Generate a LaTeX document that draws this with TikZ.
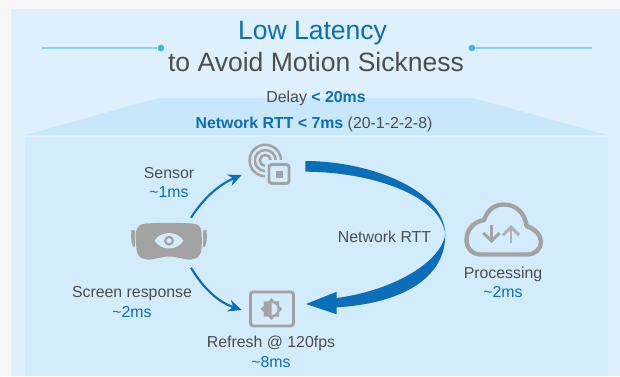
\documentclass[tikz,border=0pt]{standalone}
\usepackage{fontspec}
\setmainfont{Liberation Sans}
\usetikzlibrary{arrows.meta}
\definecolor{pagebg}{HTML}{F8F7F7}
\definecolor{panel}{HTML}{DDF0FB}
\definecolor{trap}{HTML}{C8E7FA}
\definecolor{inner}{HTML}{D3ECFB}
\definecolor{blue}{HTML}{0A6EB8}
\definecolor{txt}{HTML}{4D4D4D}
\definecolor{icon}{HTML}{A3A3A3}
\definecolor{rule}{HTML}{84D4EA}
\definecolor{dotc}{HTML}{3FBADC}
\tikzset{
  x=0.75pt,y=-0.75pt,
  lab/.style={font=\fontsize{11.9}{14}\selectfont,text=txt,inner sep=0pt,anchor=base},
  val/.style={font=\fontsize{11.9}{14}\selectfont,text=blue,inner sep=0pt,anchor=base},
  ttl/.style={font=\fontsize{19.9}{24}\selectfont,inner sep=0pt,anchor=base},
  flow/.style={draw=blue,line width=1.6pt,-{Stealth[length=10pt,width=9pt]}},
  ruleline/.style={draw=rule,line width=1.3pt},
  ruledot/.style={circle,fill=dotc,inner sep=0pt,minimum size=5pt},
  iconline/.style={draw=icon,line width=1.9pt},
}
\begin{document}
\begin{tikzpicture}
\useasboundingbox (0,0) rectangle (620,376);
\fill[pagebg] (0,0) rectangle (620,376);
\fill[panel] (11,9) rectangle (620,376);
\fill[trap] (26,135) -- (158,98) -- (473,98) -- (607,135) -- cycle;
\fill[inner] (25,137) rectangle (608,376);
% title
\node[ttl,text=blue] (t1) at (312.5,39) {Low Latency};
\node[ttl,text=txt] (t2) at (316,71) {to Avoid Motion Sickness};
\node[ruledot] (dl) at (161,48) {};
\node[ruledot] (dr) at (472,48) {};
\coordinate (ll) at (42,48);
\coordinate (lr) at (592,48);
\draw[ruleline] (ll) -- (dl);
\draw[ruleline] (dr) -- (lr);
\node[lab,text=txt] (delay) at (316,102.7) {Delay \textcolor{blue}{\textbf{< 20ms}}};
\node[lab] (rtt) at (314,128) {\textcolor{blue}{\textbf{Network RTT < 7ms}} (20-1-2-2-8)};
% big arrow
\fill[blue] (305.3,161) .. controls (370,161) and (445,190) .. (445.3,235)
  .. controls (440,262) and (395,290) .. (336.7,298)
  -- (336.7,291.7) -- (306,304) -- (336.7,314.3) -- (336.7,307.3)
  .. controls (395,304) and (445,282) .. (445.3,235)
  .. controls (442,195) and (370,171.7) .. (305.3,171.7) -- cycle;
% sensor icon
\coordinate (sc) at (265.3,160.5);
\draw[iconline] (sc) circle (15.7);
\draw[iconline] (sc) circle (10.5);
\draw[iconline] (sc) circle (5.5);
\fill[inner,rounded corners=3pt] (265,160) rectangle (294,188);
\draw[icon,line width=2.2pt,rounded corners=2pt] (269,164.5) rectangle (289,183.5);
\fill[icon] (275.5,170.5) rectangle (283,178);
\node[inner sep=0pt,minimum width=42pt,minimum height=42pt] (sensor) at (268,164) {};
% hmd
\node[inner sep=0pt,minimum width=58pt,minimum height=28pt] (hmd) at (169,241) {};
\fill[icon] (136,232) .. controls (137,226) and (140,224) .. (146,223.5)
  .. controls (160,222.5) and (178,222.5) .. (192,223.5)
  .. controls (198,224) and (201,226) .. (201.5,232)
  .. controls (202,240) and (202,247) .. (201,252)
  .. controls (200,256) and (197,259) .. (191,259.5)
  .. controls (183,260) and (178,256.5) .. (169,256.5)
  .. controls (160,256.5) and (155,260) .. (147,259.5)
  .. controls (141,259) and (138,256) .. (137,252)
  .. controls (136,247) and (135.5,240) .. (136,232) -- cycle;
\fill[icon,rounded corners=1pt] (131.5,231) -- (135,229.5) -- (135,247.5) -- (133,247) .. controls (131,241) and (131,236) .. (131.5,231) -- cycle;
\fill[icon,rounded corners=1pt] (206.5,231) -- (203,229.5) -- (203,247.5) -- (205,247) .. controls (207,241) and (207,236) .. (206.5,231) -- cycle;
\fill[inner] (154.5,240.7) .. controls (161,230.5) and (177,230.5) .. (183.5,240.7)
  .. controls (177,251) and (161,251) .. (154.5,240.7) -- cycle;
\draw[icon,line width=1.6pt] (169,240.7) circle (3.8);
% refresh icon
\draw[icon,line width=2.2pt,rounded corners=2pt] (250.5,292) rectangle (293.5,326);
\node[inner sep=0pt,minimum width=33pt,minimum height=27pt] (refresh) at (272,309) {};
\begin{scope}[shift={(271.5,309)}]
  \fill[icon] (0,0) circle (8.2);
  \foreach \a in {0,45,...,315} {
    \fill[icon] (\a:11) -- (\a+24:8) -- (\a-24:8) -- cycle;
  }
  \fill[inner] (0,-6) arc[start angle=-90,end angle=90,radius=6] -- cycle;
\end{scope}
% cloud icon
\node[inner sep=0pt,minimum width=58pt,minimum height=40pt] (cloud) at (503,230) {};
\draw[icon,line width=3.3pt,line join=round] (481,254.5)
  .. controls (472,254.5) and (466.5,248) .. (466.5,240)
  .. controls (466.5,230) and (473,222) .. (484,220)
  .. controls (488,209) and (495,204.5) .. (504,204.5)
  .. controls (516,204.5) and (525,213) .. (526.5,226)
  .. controls (535,229) and (541,235) .. (541,242)
  .. controls (541,249) and (535,254.5) .. (527,254.5) -- cycle;
\draw[icon,line width=2.2pt,-{Straight Barb[length=6pt,width=12pt]}] (491.5,225) -- (491.5,243);
\draw[icon!80!inner,line width=2.2pt,-{Straight Barb[length=6pt,width=12pt]}] (511,243) -- (511,225);
% small arrows
\coordinate (a1) at (191,217.7);
\coordinate (a2) at (241.7,175);
\coordinate (b1) at (191,267.7);
\coordinate (b2) at (241.7,310);
\draw[flow] (a1) .. controls (203,199) and (218,185) .. (a2);
\draw[flow] (b1) .. controls (203,288) and (218,302) .. (b2);
% labels
\node[lab] (s1) at (169,178.2) {Sensor};
\node[val] (s2) at (169,197.7) {\textasciitilde 1ms};
\node[lab] (n1) at (384.5,242.5) {Network RTT};
\node[lab] (p1) at (503,278) {Processing};
\node[val] (p2) at (503,297.5) {\textasciitilde 2ms};
\node[lab] (r1) at (132,297.5) {Screen response};
\node[val] (r2) at (132,317.5) {\textasciitilde 2ms};
\node[lab] (f1) at (271,347.5) {Refresh @ 120fps};
\node[val] (f2) at (271,367.5) {\textasciitilde 8ms};
\end{tikzpicture}
\end{document}
